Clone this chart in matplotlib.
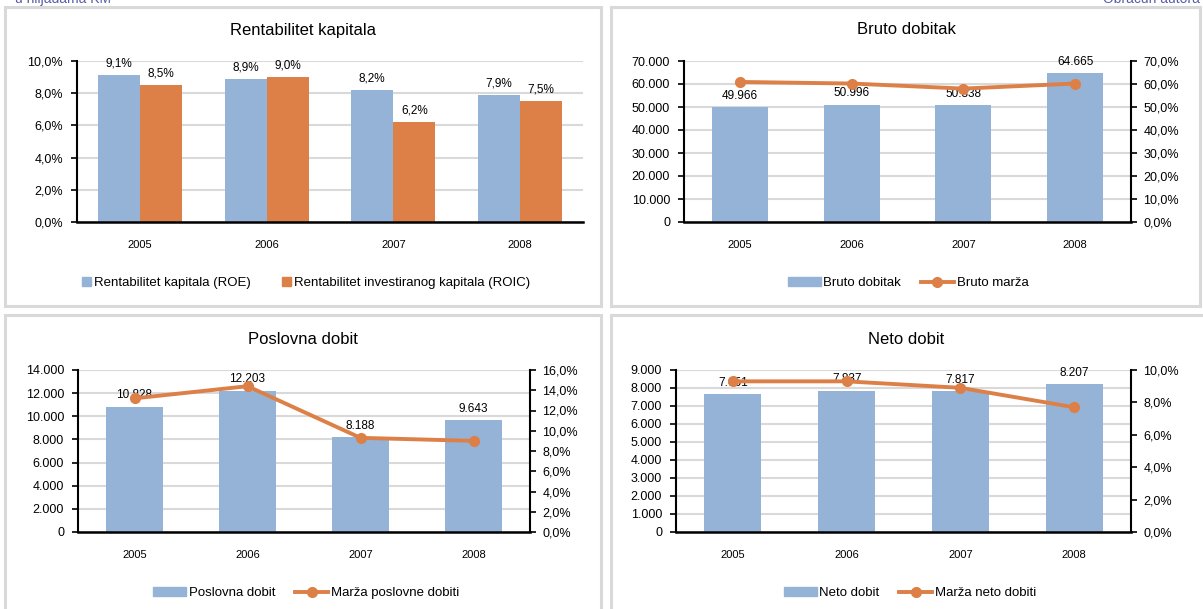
import matplotlib.pyplot as plt
from matplotlib.patches import Rectangle, Patch
from matplotlib.lines import Line2D
from matplotlib.ticker import FuncFormatter, MultipleLocator

plt.rcParams['font.family'] = ['Liberation Sans', 'DejaVu Sans']

W, H = 1203, 609
BLUE = '#95b3d7'
ORANGE = '#dd8047'
GRID = '#d9d9d9'

godine = ["2005", "2006", "2007", "2008"]
roe = [9.1, 8.9, 8.2, 7.9]
roic = [8.5, 9.0, 6.2, 7.5]
bruto_dobitak = [49966, 50996, 50838, 64665]
bruto_marza = [60.9, 60.2, 58.0, 60.2]
poslovna_dobit = [10828, 12203, 8188, 9643]
marza_poslovne = [13.2, 14.4, 9.3, 9.0]
neto_dobit = [7651, 7837, 7817, 8207]
marza_neto = [9.3, 9.3, 8.9, 7.7]


def hiljade(v, pos=None):
    return f"{int(round(v)):,}".replace(",", ".")


def posto(v, pos=None):
    return f"{v:.1f}".replace(".", ",") + "%"


def box(l, r, t, b):
    return [l / W, 1 - b / H, (r - l) / W, (b - t) / H]


def px(x, y):
    return x / W, 1 - y / H


fig = plt.figure(figsize=(W / 100, H / 100), dpi=100)
fig.patch.set_facecolor('white')

# okviri panela
for (x0, y0, x1, y1) in [(5, 7, 601, 306), (611, 7, 1200, 306),
                         (5, 315, 601, 625), (611, 315, 1215, 625)]:
    fig.add_artist(Rectangle((x0 / W, 1 - y1 / H), (x1 - x0) / W, (y1 - y0) / H,
                             transform=fig.transFigure, fill=False,
                             edgecolor=GRID, lw=2.2))

# odsjeceni tekst na vrhu
fig.text(*px(15, 3), "u hiljadama KM", color='#5a5aa8', fontsize=10, va='baseline')
fig.text(*px(1200, 3), "Obračun autora", color='#5a5aa8', fontsize=10,
         va='baseline', ha='right')


def style_left(ax):
    ax.grid(axis='y', color=GRID, lw=1.5)
    ax.set_axisbelow(True)
    for s in ['top', 'right']:
        ax.spines[s].set_visible(False)
    ax.spines['left'].set_linewidth(1.5)
    ax.spines['bottom'].set_linewidth(1.8)
    ax.tick_params(axis='y', length=4, width=1.2, pad=6, labelsize=9)
    ax.tick_params(axis='x', length=0, pad=13, labelsize=8)
    ax.set_xlim(-0.5, 3.5)
    ax.set_xticks(range(len(godine)))
    ax.set_xticklabels(godine)


# Panel 1 - Rentabilitet kapitala
ax = fig.add_axes(box(77, 583, 61, 222))
x = range(len(godine))
w = 0.333
ax.bar([i - w / 2 for i in x], roe, width=w, color=BLUE, zorder=2)
ax.bar([i + w / 2 for i in x], roic, width=w, color=ORANGE, zorder=2)
ax.set_ylim(0, 10)
ax.yaxis.set_major_locator(MultipleLocator(2))
ax.yaxis.set_major_formatter(FuncFormatter(posto))
style_left(ax)
for i in x:
    ax.annotate(posto(roe[i]), (i - w / 2, roe[i]), xytext=(0, 4),
                textcoords='offset points', ha='center', va='bottom', fontsize=8.5)
    ax.annotate(posto(roic[i]), (i + w / 2, roic[i]), xytext=(0, 4),
                textcoords='offset points', ha='center', va='bottom', fontsize=8.5)
fig.text(*px(303, 30), "Rentabilitet kapitala", fontsize=12, ha='center', va='center')
fig.legend([Patch(color=BLUE), Patch(color=ORANGE)],
           ["Rentabilitet kapitala (ROE)", "Rentabilitet investiranog kapitala (ROIC)"],
           loc='center', bbox_to_anchor=px(306, 283), ncol=2, frameon=False,
           fontsize=9.5, handlelength=0.7, handleheight=0.7, handletextpad=0.2,
           columnspacing=2.4)


def combo(rect, title, title_xy, bars, line, ymax, ystep, pmax, pstep,
          bar_name, line_name, leg_xy):
    ax = fig.add_axes(box(*rect))
    xs = range(len(godine))
    ax.bar(xs, bars, width=0.5, color=BLUE, zorder=2)
    ax.set_ylim(0, ymax)
    ax.yaxis.set_major_locator(MultipleLocator(ystep))
    ax.yaxis.set_major_formatter(FuncFormatter(hiljade))
    style_left(ax)
    for i, v in enumerate(bars):
        ax.annotate(hiljade(v), (i, v), xytext=(0, 4), textcoords='offset points',
                    ha='center', va='bottom', fontsize=8.5)
    ax2 = ax.twinx()
    ax2.plot(xs, line, color=ORANGE, lw=2.8, marker='o', ms=7, zorder=3)
    ax2.set_ylim(0, pmax)
    ax2.yaxis.set_major_locator(MultipleLocator(pstep))
    ax2.yaxis.set_major_formatter(FuncFormatter(posto))
    for s in ['top', 'left', 'bottom']:
        ax2.spines[s].set_visible(False)
    ax2.spines['right'].set_linewidth(1.5)
    ax2.tick_params(axis='y', length=4, width=1.2, pad=5, labelsize=9)
    ax2.set_xlim(-0.5, 3.5)
    fig.text(*px(*title_xy), title, fontsize=12, ha='center', va='center')
    fig.legend([Patch(color=BLUE),
                Line2D([], [], color=ORANGE, lw=2.8, marker='o', ms=7)],
               [bar_name, line_name], loc='center', bbox_to_anchor=px(*leg_xy),
               ncol=2, frameon=False, fontsize=9.5, handlelength=2.5,
               handleheight=0.7, handletextpad=0.2, columnspacing=1.5)


combo((684, 1131, 61, 222), "Bruto dobitak", (906, 30), bruto_dobitak, bruto_marza,
      70000, 10000, 70, 10, "Bruto dobitak", "Bruto marža", (908, 283))
combo((78, 530, 370, 532), "Poslovna dobit", (303, 339), poslovna_dobit, marza_poslovne,
      14000, 2000, 16, 2, "Poslovna dobit", "Marža poslovne dobiti", (306, 593))
combo((676, 1131, 370, 532), "Neto dobit", (906, 339), neto_dobit, marza_neto,
      9000, 1000, 10, 2, "Neto dobit", "Marža neto dobiti", (910, 593))

fig.savefig('out.png', dpi=100)
